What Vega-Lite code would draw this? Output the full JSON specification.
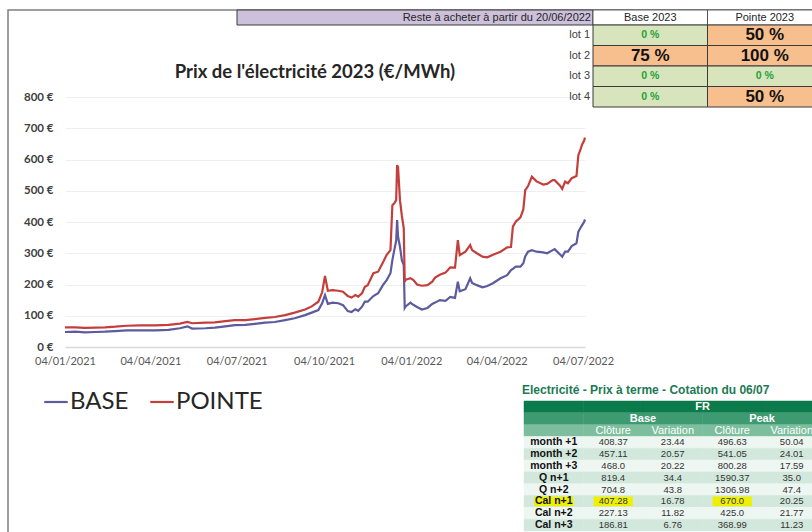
{
  "$schema": "https://vega.github.io/schema/vega-lite/v6.json",
  "width": 520,
  "height": 250,
  "autosize": {"type": "none"},
  "padding": {"left": 65, "top": 97, "right": 227, "bottom": 185},
  "background": "#ffffff",
  "config": {"view": {"stroke": null}},
  "datasets": {
    "prix": [
      {"date": "2021-01-04", "BASE": 48, "POINTE": 63},
      {"date": "2021-01-15", "BASE": 49, "POINTE": 63},
      {"date": "2021-01-25", "BASE": 47, "POINTE": 61},
      {"date": "2021-02-05", "BASE": 48, "POINTE": 62},
      {"date": "2021-02-15", "BASE": 49, "POINTE": 63},
      {"date": "2021-02-26", "BASE": 51, "POINTE": 65},
      {"date": "2021-03-10", "BASE": 53, "POINTE": 68},
      {"date": "2021-03-24", "BASE": 53, "POINTE": 69},
      {"date": "2021-04-09", "BASE": 53, "POINTE": 69},
      {"date": "2021-04-23", "BASE": 55, "POINTE": 71},
      {"date": "2021-05-05", "BASE": 60, "POINTE": 75},
      {"date": "2021-05-13", "BASE": 66, "POINTE": 80},
      {"date": "2021-05-18", "BASE": 59, "POINTE": 76},
      {"date": "2021-06-01", "BASE": 60, "POINTE": 78},
      {"date": "2021-06-11", "BASE": 62, "POINTE": 79},
      {"date": "2021-06-22", "BASE": 66, "POINTE": 83},
      {"date": "2021-07-02", "BASE": 70, "POINTE": 86},
      {"date": "2021-07-13", "BASE": 71, "POINTE": 86},
      {"date": "2021-07-23", "BASE": 74, "POINTE": 89},
      {"date": "2021-08-03", "BASE": 78, "POINTE": 93},
      {"date": "2021-08-13", "BASE": 80, "POINTE": 96},
      {"date": "2021-08-24", "BASE": 86, "POINTE": 102},
      {"date": "2021-09-03", "BASE": 92, "POINTE": 110},
      {"date": "2021-09-14", "BASE": 102, "POINTE": 120},
      {"date": "2021-09-21", "BASE": 110, "POINTE": 130},
      {"date": "2021-09-28", "BASE": 118, "POINTE": 145},
      {"date": "2021-10-02", "BASE": 140, "POINTE": 175},
      {"date": "2021-10-05", "BASE": 166, "POINTE": 227},
      {"date": "2021-10-08", "BASE": 138, "POINTE": 180},
      {"date": "2021-10-13", "BASE": 142, "POINTE": 182},
      {"date": "2021-10-19", "BASE": 140, "POINTE": 180},
      {"date": "2021-10-24", "BASE": 134, "POINTE": 177},
      {"date": "2021-10-29", "BASE": 115, "POINTE": 163},
      {"date": "2021-11-02", "BASE": 112, "POINTE": 158},
      {"date": "2021-11-06", "BASE": 121, "POINTE": 166},
      {"date": "2021-11-09", "BASE": 116, "POINTE": 161},
      {"date": "2021-11-13", "BASE": 129, "POINTE": 172},
      {"date": "2021-11-16", "BASE": 145, "POINTE": 193},
      {"date": "2021-11-19", "BASE": 145, "POINTE": 198},
      {"date": "2021-11-25", "BASE": 163, "POINTE": 236},
      {"date": "2021-11-30", "BASE": 172, "POINTE": 241},
      {"date": "2021-12-05", "BASE": 198, "POINTE": 270},
      {"date": "2021-12-09", "BASE": 214, "POINTE": 295},
      {"date": "2021-12-13", "BASE": 236, "POINTE": 310},
      {"date": "2021-12-15", "BASE": 278, "POINTE": 454},
      {"date": "2021-12-17", "BASE": 310, "POINTE": 460},
      {"date": "2021-12-19", "BASE": 340, "POINTE": 470},
      {"date": "2021-12-20", "BASE": 406, "POINTE": 582},
      {"date": "2021-12-21", "BASE": 353, "POINTE": 575},
      {"date": "2021-12-23", "BASE": 321, "POINTE": 470},
      {"date": "2021-12-25", "BASE": 278, "POINTE": 420},
      {"date": "2021-12-27", "BASE": 262, "POINTE": 380},
      {"date": "2021-12-28", "BASE": 125, "POINTE": 209},
      {"date": "2021-12-29", "BASE": 130, "POINTE": 215},
      {"date": "2022-01-03", "BASE": 142, "POINTE": 220},
      {"date": "2022-01-06", "BASE": 135, "POINTE": 215},
      {"date": "2022-01-10", "BASE": 128, "POINTE": 200},
      {"date": "2022-01-15", "BASE": 120, "POINTE": 196},
      {"date": "2022-01-21", "BASE": 125, "POINTE": 198},
      {"date": "2022-01-26", "BASE": 138, "POINTE": 209},
      {"date": "2022-01-29", "BASE": 142, "POINTE": 222},
      {"date": "2022-02-03", "BASE": 150, "POINTE": 231},
      {"date": "2022-02-09", "BASE": 148, "POINTE": 238},
      {"date": "2022-02-14", "BASE": 160, "POINTE": 255},
      {"date": "2022-02-19", "BASE": 157, "POINTE": 254},
      {"date": "2022-02-22", "BASE": 209, "POINTE": 342},
      {"date": "2022-02-24", "BASE": 178, "POINTE": 294},
      {"date": "2022-03-02", "BASE": 185, "POINTE": 305},
      {"date": "2022-03-07", "BASE": 220, "POINTE": 326},
      {"date": "2022-03-09", "BASE": 205, "POINTE": 310},
      {"date": "2022-03-14", "BASE": 198, "POINTE": 300},
      {"date": "2022-03-20", "BASE": 191, "POINTE": 289},
      {"date": "2022-03-25", "BASE": 195, "POINTE": 287},
      {"date": "2022-03-31", "BASE": 204, "POINTE": 295},
      {"date": "2022-04-08", "BASE": 220, "POINTE": 305},
      {"date": "2022-04-15", "BASE": 230, "POINTE": 319},
      {"date": "2022-04-19", "BASE": 246, "POINTE": 320},
      {"date": "2022-04-21", "BASE": 250, "POINTE": 385},
      {"date": "2022-04-24", "BASE": 257, "POINTE": 401},
      {"date": "2022-04-29", "BASE": 257, "POINTE": 415},
      {"date": "2022-05-02", "BASE": 268, "POINTE": 440},
      {"date": "2022-05-04", "BASE": 290, "POINTE": 502},
      {"date": "2022-05-07", "BASE": 305, "POINTE": 515},
      {"date": "2022-05-11", "BASE": 310, "POINTE": 545},
      {"date": "2022-05-16", "BASE": 305, "POINTE": 530},
      {"date": "2022-05-23", "BASE": 303, "POINTE": 520},
      {"date": "2022-05-27", "BASE": 300, "POINTE": 522},
      {"date": "2022-06-02", "BASE": 310, "POINTE": 534},
      {"date": "2022-06-04", "BASE": 313, "POINTE": 534},
      {"date": "2022-06-10", "BASE": 295, "POINTE": 515},
      {"date": "2022-06-12", "BASE": 289, "POINTE": 506},
      {"date": "2022-06-15", "BASE": 305, "POINTE": 529},
      {"date": "2022-06-18", "BASE": 305, "POINTE": 524},
      {"date": "2022-06-22", "BASE": 323, "POINTE": 540},
      {"date": "2022-06-27", "BASE": 332, "POINTE": 547},
      {"date": "2022-06-29", "BASE": 369, "POINTE": 614},
      {"date": "2022-07-01", "BASE": 380, "POINTE": 630},
      {"date": "2022-07-03", "BASE": 390, "POINTE": 648},
      {"date": "2022-07-05", "BASE": 400, "POINTE": 660},
      {"date": "2022-07-06", "BASE": 408, "POINTE": 670}
    ],
    "lots": [
      {"lot": "lot 1", "produit": "Base 2023", "reste": "0 %"},
      {"lot": "lot 1", "produit": "Pointe 2023", "reste": "50 %"},
      {"lot": "lot 2", "produit": "Base 2023", "reste": "75 %"},
      {"lot": "lot 2", "produit": "Pointe 2023", "reste": "100 %"},
      {"lot": "lot 3", "produit": "Base 2023", "reste": "0 %"},
      {"lot": "lot 3", "produit": "Pointe 2023", "reste": "0 %"},
      {"lot": "lot 4", "produit": "Base 2023", "reste": "0 %"},
      {"lot": "lot 4", "produit": "Pointe 2023", "reste": "50 %"}
    ],
    "cotation": [
      {"ligne": "FR", "lib": "", "bc": "", "bv": "", "pc": "", "pv": ""},
      {"ligne": "BP", "lib": "", "bc": "", "bv": "", "pc": "", "pv": ""},
      {"ligne": "CV", "lib": "", "bc": "Clôture", "bv": "Variation", "pc": "Clôture", "pv": "Variation"},
      {"ligne": "month +1", "lib": "month +1", "bc": "408.37", "bv": "23.44", "pc": "496.63", "pv": "50.04"},
      {"ligne": "month +2", "lib": "month +2", "bc": "457.11", "bv": "20.57", "pc": "541.05", "pv": "24.01"},
      {"ligne": "month +3", "lib": "month +3", "bc": "468.0", "bv": "20.22", "pc": "800.28", "pv": "17.59"},
      {"ligne": "Q n+1", "lib": "Q n+1", "bc": "819.4", "bv": "34.4", "pc": "1590.37", "pv": "35.0"},
      {"ligne": "Q n+2", "lib": "Q n+2", "bc": "704.8", "bv": "43.8", "pc": "1306.98", "pv": "47.4"},
      {"ligne": "Cal n+1", "lib": "Cal n+1", "bc": "407.28", "bv": "16.78", "pc": "670.0", "pv": "20.25"},
      {"ligne": "Cal n+2", "lib": "Cal n+2", "bc": "227.13", "bv": "11.82", "pc": "425.0", "pv": "21.77"},
      {"ligne": "Cal n+3", "lib": "Cal n+3", "bc": "186.81", "bv": "6.76", "pc": "368.99", "pv": "11.23"}
    ]
  },
  "layer": [
    {
      "data": {"values": [{"cadre": "graphique"}]},
      "mark": {"type": "rect", "fill": "transparent", "stroke": "#7f7f7f", "strokeWidth": 1.5},
      "encoding": {
        "x": {"field": "cadre", "type": "nominal", "axis": null, "scale": {"type": "band", "domain": ["graphique"], "range": [-57, 840], "paddingInner": 0, "paddingOuter": 0}},
        "y": {"field": "cadre", "type": "nominal", "axis": null, "scale": {"type": "band", "domain": ["graphique"], "range": [-87, 520], "paddingInner": 0, "paddingOuter": 0}}
      }
    },
    {
      "data": {"values": [{"titre": "Prix de l'électricité 2023 (€/MWh)"}]},
      "mark": {"type": "text", "font": "Lato", "fontSize": 18.5, "fontWeight": "bold", "color": "#262626"},
      "encoding": {
        "x": {"field": "titre", "type": "nominal", "axis": null, "scale": {"type": "band", "domain": ["Prix de l'électricité 2023 (€/MWh)"], "range": [0, 500], "paddingInner": 0, "paddingOuter": 0}},
        "y": {"field": "titre", "type": "nominal", "axis": null, "scale": {"type": "band", "domain": ["Prix de l'électricité 2023 (€/MWh)"], "range": [-35, -15], "paddingInner": 0, "paddingOuter": 0}},
        "text": {"field": "titre"}
      }
    },
    {
      "data": {"name": "prix"},
      "transform": [{"fold": ["BASE", "POINTE"], "as": ["serie", "prix"]}],
      "mark": {"type": "line", "strokeWidth": 2.2},
      "encoding": {
        "x": {
          "field": "date", "type": "temporal",
          "scale": {"type": "utc", "domain": [{"year": 2021, "month": 1, "date": 4, "utc": true}, {"year": 2022, "month": 7, "date": 6, "utc": true}]},
          "axis": {
            "title": null,
            "values": [
              {"year": 2021, "month": 1, "date": 4, "utc": true},
              {"year": 2021, "month": 4, "date": 4, "utc": true},
              {"year": 2021, "month": 7, "date": 4, "utc": true},
              {"year": 2021, "month": 10, "date": 4, "utc": true},
              {"year": 2022, "month": 1, "date": 4, "utc": true},
              {"year": 2022, "month": 4, "date": 4, "utc": true},
              {"year": 2022, "month": 7, "date": 4, "utc": true}
            ],
            "labelExpr": "utcFormat(datum.value, '%d/%m/%Y')",
            "grid": false, "ticks": false,
            "domainColor": "#d9d9d9", "domainWidth": 1.5,
            "labelFont": "Lato", "labelFontSize": 11, "labelColor": "#595959",
            "labelPadding": 8, "labelFlush": false, "labelOverlap": false
          }
        },
        "y": {
          "field": "prix", "type": "quantitative",
          "scale": {"domain": [0, 800], "nice": false},
          "axis": {
            "title": null,
            "values": [0, 100, 200, 300, 400, 500, 600, 700, 800],
            "labelExpr": "datum.value + ' €'",
            "grid": true, "gridColor": "#efefef", "gridWidth": 1,
            "domain": false, "ticks": false,
            "labelFont": "Lato", "labelFontSize": 11.5, "labelFontWeight": "bold", "labelColor": "#404040",
            "labelPadding": 12
          }
        },
        "color": {
          "field": "serie", "type": "nominal",
          "scale": {"domain": ["BASE", "POINTE"], "range": ["#5b5b9e", "#c43e3b"]},
          "legend": {
            "orient": "none", "legendX": -22, "legendY": 292, "direction": "horizontal",
            "title": null, "symbolType": "stroke", "symbolStrokeWidth": 2.2, "symbolSize": 550,
            "labelFont": "Lato", "labelFontSize": 24, "labelColor": "#262626",
            "labelOffset": 1, "columnPadding": 16
          }
        }
      }
    },
    {
      "data": {"values": [{"entete": "Reste à acheter à partir du 20/06/2022"}]},
      "encoding": {
        "x": {"field": "entete", "type": "nominal", "axis": null, "scale": {"type": "band", "domain": ["Reste à acheter à partir du 20/06/2022"], "range": [172, 528], "paddingInner": 0, "paddingOuter": 0}},
        "y": {"field": "entete", "type": "nominal", "axis": null, "scale": {"type": "band", "domain": ["Reste à acheter à partir du 20/06/2022"], "range": [-87, -72], "paddingInner": 0, "paddingOuter": 0}}
      },
      "layer": [
        {"mark": {"type": "rect", "fill": "#ccc0da", "stroke": "#3a3a3a", "strokeWidth": 1}},
        {
          "mark": {"type": "text", "align": "right", "dx": -2, "font": "Liberation Sans", "fontSize": 11, "color": "#262626"},
          "encoding": {
            "x": {"field": "entete", "type": "nominal", "bandPosition": 1, "axis": null, "scale": {"type": "band", "domain": ["Reste à acheter à partir du 20/06/2022"], "range": [172, 528], "paddingInner": 0, "paddingOuter": 0}},
            "text": {"field": "entete"}
          }
        }
      ]
    },
    {
      "data": {"values": [{"produit": "Base 2023", "rang": "en-tête"}, {"produit": "Pointe 2023", "rang": "en-tête"}]},
      "encoding": {
        "x": {"field": "produit", "type": "nominal", "axis": null, "scale": {"type": "band", "domain": ["Base 2023", "Pointe 2023"], "range": [528, 757], "paddingInner": 0, "paddingOuter": 0}},
        "y": {"field": "rang", "type": "nominal", "axis": null, "scale": {"type": "band", "domain": ["en-tête"], "range": [-87, -72], "paddingInner": 0, "paddingOuter": 0}}
      },
      "layer": [
        {"mark": {"type": "rect", "fill": "#ffffff", "stroke": "#3a3a3a", "strokeWidth": 0.8}},
        {"mark": {"type": "text", "font": "Liberation Sans", "fontSize": 11, "color": "#262626"}, "encoding": {"text": {"field": "produit"}}}
      ]
    },
    {
      "data": {"name": "lots"},
      "encoding": {
        "x": {"field": "produit", "type": "nominal", "axis": null, "scale": {"type": "band", "domain": ["Base 2023", "Pointe 2023"], "range": [528, 757], "paddingInner": 0, "paddingOuter": 0}},
        "y": {"field": "lot", "type": "nominal", "axis": null, "scale": {"type": "band", "domain": ["lot 1", "lot 2", "lot 3", "lot 4"], "range": [-72, 10], "paddingInner": 0, "paddingOuter": 0}}
      },
      "layer": [
        {
          "mark": {"type": "rect", "stroke": "#3a3a3a", "strokeWidth": 1},
          "encoding": {"fill": {"condition": {"test": "datum.reste == '0 %'", "value": "#d8e4bc"}, "value": "#f8bf8e"}}
        },
        {
          "mark": {"type": "text", "font": "Liberation Sans", "fontWeight": "bold"},
          "encoding": {
            "text": {"field": "reste"},
            "fill": {"condition": {"test": "datum.reste == '0 %'", "value": "#22a33a"}, "value": "#111111"},
            "size": {"condition": {"test": "datum.reste == '0 %'", "value": 10.5}, "value": 17}
          }
        },
        {
          "transform": [{"filter": "datum.produit == 'Base 2023'"}],
          "mark": {"type": "text", "align": "right", "dx": -3, "font": "Liberation Sans", "fontSize": 11, "color": "#404040"},
          "encoding": {
            "x": {"field": "produit", "type": "nominal", "bandPosition": 0, "axis": null, "scale": {"type": "band", "domain": ["Base 2023", "Pointe 2023"], "range": [528, 757], "paddingInner": 0, "paddingOuter": 0}},
            "text": {"field": "lot"}
          }
        }
      ]
    },
    {
      "data": {"values": [{"titre": "Electricité - Prix à terme - Cotation du 06/07"}]},
      "mark": {"type": "text", "align": "left", "font": "Liberation Sans", "fontSize": 12, "fontWeight": "bold", "color": "#1d7a55"},
      "encoding": {
        "x": {"field": "titre", "type": "nominal", "bandPosition": 0, "axis": null, "scale": {"type": "band", "domain": ["Electricité - Prix à terme - Cotation du 06/07"], "range": [457, 747], "paddingInner": 0, "paddingOuter": 0}},
        "y": {"field": "titre", "type": "nominal", "axis": null, "scale": {"type": "band", "domain": ["Electricité - Prix à terme - Cotation du 06/07"], "range": [281, 305], "paddingInner": 0, "paddingOuter": 0}},
        "text": {"field": "titre"}
      }
    },
    {
      "data": {"name": "cotation"},
      "transform": [{"fold": ["lib", "bc", "bv", "pc", "pv"], "as": ["col", "val"]}],
      "encoding": {
        "x": {"field": "col", "type": "nominal", "axis": null, "scale": {"type": "band", "domain": ["lib", "bc", "bv", "pc", "pv"], "range": [459, 756.5], "paddingInner": 0, "paddingOuter": 0}},
        "y": {"field": "ligne", "type": "nominal", "axis": null, "scale": {"type": "band", "domain": ["FR", "BP", "CV", "month +1", "month +2", "month +3", "Q n+1", "Q n+2", "Cal n+1", "Cal n+2", "Cal n+3"], "range": [304, 434], "paddingInner": 0, "paddingOuter": 0}}
      },
      "layer": [
        {
          "mark": {"type": "rect", "strokeWidth": 0.5},
          "encoding": {
            "fill": {"condition": [
              {"test": "datum.ligne == 'FR'", "value": "#0b7b4b"},
              {"test": "datum.ligne == 'BP'", "value": "#3e9a70"},
              {"test": "datum.ligne == 'CV'", "value": "#7dbe9e"},
              {"test": "indexof(['month +2','Q n+1','Cal n+1','Cal n+3'], datum.ligne) >= 0", "value": "#d3e8dc"}
            ], "value": "#eef6f1"},
            "stroke": {"condition": [
              {"test": "datum.ligne == 'FR'", "value": "#0b7b4b"},
              {"test": "datum.ligne == 'BP'", "value": "#3e9a70"},
              {"test": "datum.ligne == 'CV'", "value": "#7dbe9e"},
              {"test": "indexof(['month +2','Q n+1','Cal n+1','Cal n+3'], datum.ligne) >= 0", "value": "#d3e8dc"}
            ], "value": "#eef6f1"}
          }
        },
        {
          "transform": [{"filter": "datum.ligne == 'Cal n+1' && (datum.col == 'lib' || datum.col == 'bc' || datum.col == 'pc')"}],
          "mark": {"type": "rect", "fill": "#eef000", "width": {"band": 0.66}, "height": {"band": 0.82}}
        },
        {
          "transform": [{"filter": "datum.col == 'lib'"}],
          "mark": {"type": "text", "font": "Liberation Sans", "fontSize": 10.5, "fontWeight": "bold", "color": "#111111"},
          "encoding": {"text": {"field": "val"}}
        },
        {
          "transform": [{"filter": "datum.col != 'lib'"}],
          "mark": {"type": "text", "font": "Liberation Sans"},
          "encoding": {
            "text": {"field": "val"},
            "fill": {"condition": {"test": "datum.ligne == 'CV'", "value": "#ffffff"}, "value": "#333333"},
            "size": {"condition": {"test": "datum.ligne == 'CV'", "value": 11}, "value": 9.5}
          }
        },
        {
          "data": {"values": [
            {"titre": "FR", "ligne": "FR", "col": "pc"},
            {"titre": "Base", "ligne": "BP", "col": "bv"},
            {"titre": "Peak", "ligne": "BP", "col": "pv"}
          ]},
          "mark": {"type": "text", "font": "Liberation Sans", "fontSize": 11, "fontWeight": "bold", "color": "#ffffff"},
          "encoding": {
            "x": {"field": "col", "type": "nominal", "bandPosition": 0, "axis": null, "scale": {"type": "band", "domain": ["lib", "bc", "bv", "pc", "pv"], "range": [459, 756.5], "paddingInner": 0, "paddingOuter": 0}},
            "text": {"field": "titre"}
          }
        }
      ]
    }
  ],
  "resolve": {"scale": {"x": "independent", "y": "independent", "color": "independent"}}
}
